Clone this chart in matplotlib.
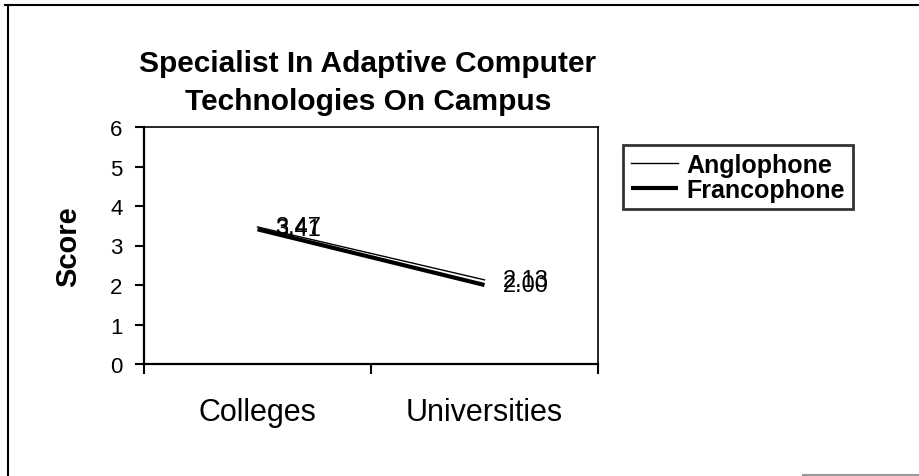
import numpy as np
import matplotlib
matplotlib.use("Agg")
import matplotlib.pyplot as plt
from matplotlib.lines import Line2D

plt.rcParams['font.family'] = ['Liberation Sans', 'DejaVu Sans']

# data
categories = ["Colleges", "Universities"]
anglophone = [3.47, 2.13]
francophone = [3.41, 2.00]
y_ticks = [0, 1, 2, 3, 4, 5, 6]
title = "Specialist In Adaptive Computer\nTechnologies On Campus"

fig = plt.figure(figsize=(9.2, 4.77), dpi=100)
ax = fig.add_axes([144 / 920, 1 - 365 / 477, 454 / 920, 237 / 477])

x = np.arange(len(categories))
ax.plot(x, anglophone, color="black", lw=1.0, label="Anglophone", zorder=3)
ax.plot(x, francophone, color="black", lw=3.0, label="Francophone",
        solid_capstyle="butt", zorder=2)

# value labels, right of each point (they overlap in the original too)
for series in (anglophone, francophone):
    for xi, v in zip(x, series):
        ax.annotate(f"{v:.2f}", (xi, v), xytext=(13, 0), textcoords="offset points",
                    ha="left", va="center", fontsize=17, color="black")

ax.set_xlim(-0.5, len(categories) - 0.5)
ax.set_ylim(y_ticks[0], y_ticks[-1])
ax.set_yticks(y_ticks)
ax.tick_params(axis="y", direction="out", length=6.5, width=1.5, pad=9, labelsize=16)

ax.set_xticks(x)
ax.set_xticklabels(categories, fontsize=22)
ax.set_xticks(np.arange(-0.5, len(categories)), minor=True)
ax.tick_params(axis="x", which="major", length=0, pad=24)
ax.tick_params(axis="x", which="minor", direction="out", length=7, width=1.5)

for side in ("left", "bottom"):
    ax.spines[side].set_linewidth(1.6)
for side in ("top", "right"):
    ax.spines[side].set_linewidth(1.2)

ax.set_ylabel("Score", fontsize=21, fontweight="bold")
ax.yaxis.set_label_coords(-62 / 454, 0.5)

fig.text(368 / 920, 1 - 83 / 477, title, ha="center", va="center",
         fontsize=21.5, fontweight="bold", linespacing=1.5)

leg = ax.legend(loc="upper left", bbox_to_anchor=(623 / 920, 1 - 146 / 477),
                bbox_transform=fig.transFigure, fontsize=18, frameon=True,
                fancybox=False, handlelength=1.9, handletextpad=0.35,
                borderpad=0.3, labelspacing=0.05, borderaxespad=0)
leg.get_frame().set_edgecolor("black")
leg.get_frame().set_linewidth(2)
for t in leg.get_texts():
    t.set_fontweight("bold")

# outer chart frame (left and top only survive in the scan)
fig.add_artist(Line2D([5 / 920, 1], [1 - 6 / 477, 1 - 6 / 477], color="black", lw=1.5))
fig.add_artist(Line2D([8 / 920, 8 / 920], [0, 1 - 6 / 477], color="black", lw=1.5))
fig.add_artist(Line2D([803 / 920, 1], [1.5 / 477, 1.5 / 477], color="#999999", lw=1.5))

fig.savefig("out.png", dpi=100)
